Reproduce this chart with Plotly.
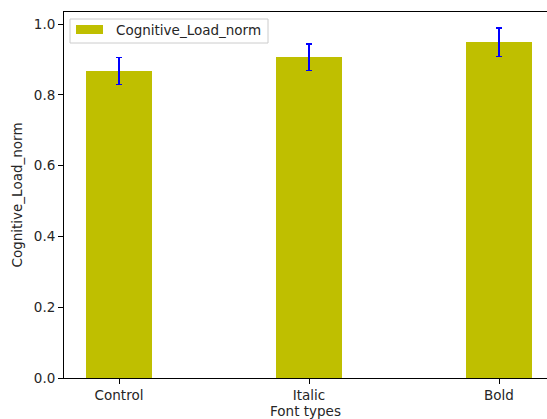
import plotly.graph_objects as go

categories = ["Control", "Italic", "Bold"]
values = [0.868, 0.907, 0.949]
errors = [0.038, 0.037, 0.040]
series_name = "Cognitive_Load_norm"
y_ticks = [0.0, 0.2, 0.4, 0.6, 0.8, 1.0]

FONT = "DejaVu Sans"
BAR_COLOR = "#bfbf00"
W, H = 547, 419
ML, MR, MT, MB = 64, 0, 12, 41
PW, PH = W - ML - MR, H - MT - MB


def px(xp):
    return (xp - ML) / PW


def py(yp):
    return (H - MB - yp) / PH


fig = go.Figure()
fig.add_trace(go.Bar(
    x=list(range(len(categories))), y=values, width=0.35,
    name=series_name,
    marker=dict(color=BAR_COLOR, line=dict(width=0)),
    error_y=dict(type="data", array=errors, color="blue", thickness=1.3, width=3),
    showlegend=False,
))

# legend drawn in matplotlib style
fig.add_shape(type="rect", xref="paper", yref="paper",
              x0=px(70), x1=px(268), y0=py(43), y1=py(19),
              line=dict(color="#cccccc", width=1), fillcolor="rgba(255,255,255,0.8)",
              layer="above")
fig.add_shape(type="rect", xref="paper", yref="paper",
              x0=px(76), x1=px(103), y0=py(34), y1=py(25),
              line=dict(width=0), fillcolor=BAR_COLOR, layer="above")
fig.add_annotation(xref="paper", yref="paper", x=px(114), y=py(30),
                   xanchor="left", yanchor="middle", showarrow=False,
                   text=series_name, font=dict(family=FONT, size=13.5, color="#262626"))

fig.update_layout(
    width=W, height=H,
    margin=dict(l=ML, r=MR, t=MT, b=MB, autoexpand=False),
    paper_bgcolor="white", plot_bgcolor="white",
    font=dict(family=FONT, size=13.5, color="#262626"),
    showlegend=False,
    bargap=0,
)
fig.update_xaxes(
    automargin=False,
    range=[-0.2895, 2.2526],
    tickmode="array", tickvals=list(range(len(categories))), ticktext=categories,
    showline=True, linecolor="black", linewidth=1, mirror=True,
    ticks="outside", ticklen=5, tickcolor="black",
    showgrid=False, zeroline=False,
    title=dict(text="Font types", standoff=3, font=dict(family=FONT, size=13.5)),
)
fig.update_yaxes(
    automargin=False,
    range=[0, 1.0346],
    tickmode="array", tickvals=y_ticks, ticktext=[f"{v:.1f}" for v in y_ticks],
    showline=True, linecolor="black", linewidth=1, mirror=False,
    ticks="outside", ticklen=5, tickcolor="black",
    showgrid=False, zeroline=False,
    title=dict(text=series_name, standoff=8, font=dict(family=FONT, size=13.5)),
)
fig.write_html("out.html", config={"displayModeBar": False, "staticPlot": True},
               post_script="document.body.style.margin='0';document.body.style.overflow='hidden';")
